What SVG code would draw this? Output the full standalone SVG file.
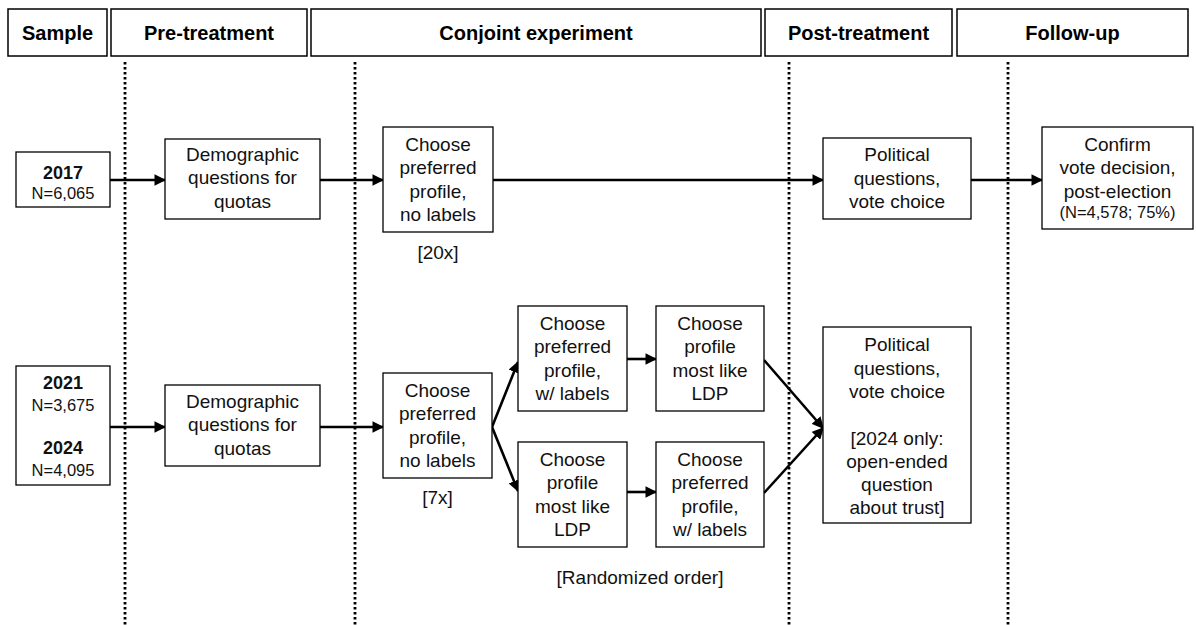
<svg xmlns="http://www.w3.org/2000/svg" width="1196" height="625" viewBox="0 0 1196 625">
<defs>
<marker id="ah" viewBox="0 0 10 10" refX="9" refY="5" markerWidth="4.5" markerHeight="4.5" orient="auto" markerUnits="strokeWidth">
<path d="M0,0 L10,5 L0,10 z" fill="#000"/>
</marker>
<style>
.hb{fill:#fff;stroke:#000;stroke-width:1.5}
.ht{font-family:"Liberation Sans",Arial,sans-serif;font-weight:bold;font-size:20px;text-anchor:middle;fill:#000}
.nb{fill:#fff;stroke:#000;stroke-width:1.3}
.t{font-family:"Liberation Sans",Arial,sans-serif;font-size:19px;text-anchor:middle;fill:#111}
.b{font-weight:bold;font-size:18px}
.s{font-size:16.5px}
.dot{stroke:#000;stroke-width:2.8;stroke-dasharray:2.5 2.5;fill:none}
.ar{stroke:#000;stroke-width:2.6;fill:none;marker-end:url(#ah)}
</style>
</defs>
<rect width="1196" height="625" fill="#fff"/>
<g id="headers">
<rect class="hb" x="8" y="9" width="99" height="47"/><text class="ht" x="57.5" y="40">Sample</text>
<rect class="hb" x="111" y="9" width="196" height="47"/><text class="ht" x="209" y="40">Pre-treatment</text>
<rect class="hb" x="311" y="9" width="450" height="47"/><text class="ht" x="536" y="40">Conjoint experiment</text>
<rect class="hb" x="765" y="9" width="187" height="47"/><text class="ht" x="858.5" y="40">Post-treatment</text>
<rect class="hb" x="957" y="9" width="231" height="47"/><text class="ht" x="1072.5" y="40">Follow-up</text>
</g>
<g id="dividers">
<line class="dot" x1="125" y1="62" x2="125" y2="625"/>
<line class="dot" x1="355" y1="62" x2="355" y2="625"/>
<line class="dot" x1="789" y1="62" x2="789" y2="625"/>
<line class="dot" x1="1008" y1="62" x2="1008" y2="625"/>
</g>
<g id="connectors">
<line class="ar" x1="110" y1="180" x2="165" y2="180"/>
<line class="ar" x1="320" y1="180" x2="383" y2="180"/>
<line class="ar" x1="493" y1="180" x2="823" y2="180"/>
<line class="ar" x1="971" y1="180" x2="1042" y2="180"/>
<line class="ar" x1="110" y1="427" x2="165" y2="427"/>
<line class="ar" x1="320" y1="427" x2="383" y2="427"/>
<line class="ar" x1="492" y1="427" x2="518" y2="362"/>
<line class="ar" x1="492" y1="427" x2="518" y2="491"/>
<line class="ar" x1="627" y1="359" x2="656" y2="359"/>
<line class="ar" x1="627" y1="492" x2="656" y2="492"/>
<line class="ar" x1="764" y1="360" x2="823" y2="428"/>
<line class="ar" x1="764" y1="493" x2="823" y2="428"/>
</g>
<g id="n2017">
<rect class="nb" x="16" y="152" width="94" height="55"/>
<text class="t b" x="63" y="179">2017</text>
<text class="t s" x="63" y="199">N=6,065</text>
</g>
<g id="demo1">
<rect class="nb" x="165" y="139" width="155" height="80"/>
<text class="t" x="242.5" y="161">Demographic</text>
<text class="t" x="242.5" y="184">questions for</text>
<text class="t" x="242.5" y="208">quotas</text>
</g>
<g id="choose1">
<rect class="nb" x="383" y="127" width="110" height="105"/>
<text class="t" x="438" y="151">Choose</text>
<text class="t" x="438" y="174">preferred</text>
<text class="t" x="438" y="198">profile,</text>
<text class="t" x="438" y="221">no labels</text>
<text class="t" x="438" y="259">[20x]</text>
</g>
<g id="pol1">
<rect class="nb" x="823" y="138" width="148" height="81"/>
<text class="t" x="897" y="161">Political</text>
<text class="t" x="897" y="185">questions,</text>
<text class="t" x="897" y="208">vote choice</text>
</g>
<g id="confirm">
<rect class="nb" x="1042" y="127" width="151" height="102"/>
<text class="t" x="1117.5" y="151">Confirm</text>
<text class="t" x="1117.5" y="174">vote decision,</text>
<text class="t" x="1117.5" y="198">post-election</text>
<text class="t s" x="1117.5" y="218">(N=4,578; 75%)</text>
</g>
<g id="n2021">
<rect class="nb" x="16" y="366" width="94" height="119"/>
<text class="t b" x="63" y="389">2021</text>
<text class="t s" x="63" y="411">N=3,675</text>
<text class="t b" x="63" y="454">2024</text>
<text class="t s" x="63" y="476">N=4,095</text>
</g>
<g id="demo2">
<rect class="nb" x="165" y="385" width="155" height="81"/>
<text class="t" x="242.5" y="408">Demographic</text>
<text class="t" x="242.5" y="431">questions for</text>
<text class="t" x="242.5" y="455">quotas</text>
</g>
<g id="choose2">
<rect class="nb" x="383" y="373" width="109" height="105"/>
<text class="t" x="437.5" y="397">Choose</text>
<text class="t" x="437.5" y="420">preferred</text>
<text class="t" x="437.5" y="444">profile,</text>
<text class="t" x="437.5" y="467">no labels</text>
<text class="t" x="437.5" y="504">[7x]</text>
</g>
<g id="tm">
<rect class="nb" x="518" y="306" width="109" height="105"/>
<text class="t" x="572.5" y="330">Choose</text>
<text class="t" x="572.5" y="353">preferred</text>
<text class="t" x="572.5" y="377">profile,</text>
<text class="t" x="572.5" y="400">w/ labels</text>
</g>
<g id="tr">
<rect class="nb" x="656" y="306" width="108" height="105"/>
<text class="t" x="710" y="330">Choose</text>
<text class="t" x="710" y="353">profile</text>
<text class="t" x="710" y="377">most like</text>
<text class="t" x="710" y="400">LDP</text>
</g>
<g id="bm">
<rect class="nb" x="518" y="442" width="109" height="105"/>
<text class="t" x="572.5" y="466">Choose</text>
<text class="t" x="572.5" y="489">profile</text>
<text class="t" x="572.5" y="513">most like</text>
<text class="t" x="572.5" y="536">LDP</text>
</g>
<g id="br">
<rect class="nb" x="656" y="442" width="108" height="105"/>
<text class="t" x="710" y="466">Choose</text>
<text class="t" x="710" y="489">preferred</text>
<text class="t" x="710" y="513">profile,</text>
<text class="t" x="710" y="536">w/ labels</text>
</g>
<g id="note">
<text class="t" x="640" y="584">[Randomized order]</text>
</g>
<g id="pol2">
<rect class="nb" x="823" y="327" width="148" height="196"/>
<text class="t" x="897" y="351">Political</text>
<text class="t" x="897" y="375">questions,</text>
<text class="t" x="897" y="398">vote choice</text>
<text class="t" x="897" y="445">[2024 only:</text>
<text class="t" x="897" y="468">open-ended</text>
<text class="t" x="897" y="491">question</text>
<text class="t" x="897" y="514">about trust]</text>
</g>
</svg>
